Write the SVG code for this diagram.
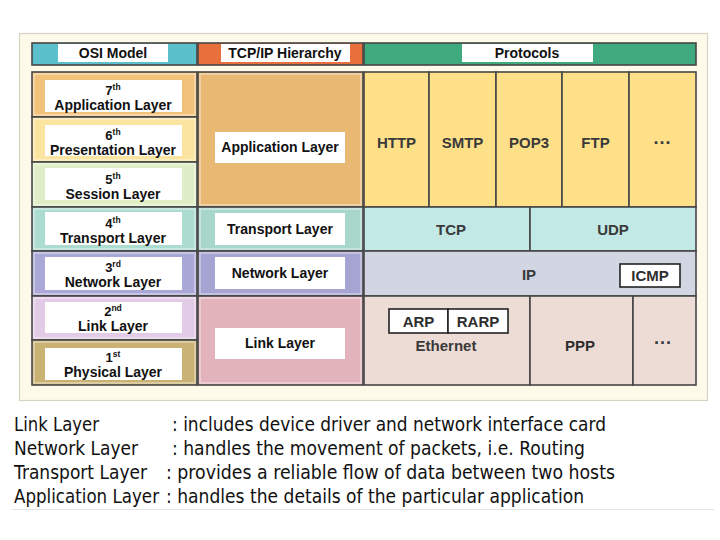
<svg xmlns="http://www.w3.org/2000/svg" width="720" height="540" viewBox="0 0 720 540">
<style>
.cell{stroke:#464646;stroke-width:1.6}
.hl{fill:none;stroke:#ffffff;stroke-opacity:0.45;stroke-width:1.5}
.wb{fill:#ffffff}
.lb{font-family:"Liberation Sans",Arial,sans-serif;font-weight:bold;font-size:14px;fill:#111;text-anchor:middle}
.ord{font-family:"Liberation Sans",Arial,sans-serif;font-weight:bold;font-size:13px;fill:#111;text-anchor:middle}
.sup{font-size:8.5px}
.pr{font-family:"Liberation Sans",Arial,sans-serif;font-weight:bold;font-size:15px;fill:#3a3a3a;text-anchor:middle}
.pn{font-family:"Liberation Sans",Arial,sans-serif;font-weight:bold;font-size:15px;fill:#2e2e2e;text-anchor:middle}
.dots{font-family:"Liberation Sans",Arial,sans-serif;font-weight:bold;font-size:18px;fill:#3a3a3a;text-anchor:middle}
.bx{fill:#ffffff;stroke:#222;stroke-width:1.6}
.note{font-family:"DejaVu Sans",Verdana,sans-serif;font-size:19px;fill:#111}
</style>
<rect x="0" y="0" width="720" height="540" fill="#ffffff"/>
<rect x="19.5" y="33.5" width="688" height="367" fill="#fdfaea" stroke="#d6d3c2" stroke-width="1.2"/>

<g id="headers">
  <g id="h-osi">
    <rect class="cell" x="32" y="43" width="165" height="22" fill="#5cbfcc"/>
    <rect class="wb" x="58" y="44" width="110" height="18"/>
    <text class="lb" x="113" y="58">OSI Model</text>
  </g>
  <g id="h-tcpip">
    <rect class="cell" x="198" y="43" width="165" height="22" fill="#e8703d"/>
    <rect class="wb" x="221" y="44" width="129" height="18"/>
    <text class="lb" x="285" y="58">TCP/IP Hierarchy</text>
  </g>
  <g id="h-proto">
    <rect class="cell" x="364" y="43" width="332" height="22" fill="#3eaa7e"/>
    <rect class="wb" x="462" y="44" width="131" height="18"/>
    <text class="lb" x="527" y="58">Protocols</text>
  </g>
</g>

<g id="osi">
  <g id="osi7">
    <rect class="cell" x="32" y="72" width="165" height="45" fill="#f2c27a"/>
    <rect class="hl" x="34" y="74" width="161" height="41"/>
    <rect class="wb" x="45" y="80" width="137" height="32"/>
    <text class="ord" x="113" y="95">7<tspan class="sup" dy="-5">th</tspan></text>
    <text class="lb" x="113" y="110">Application Layer</text>
  </g>
  <g id="osi6">
    <rect class="cell" x="32" y="117" width="165" height="45" fill="#fbe3a0"/>
    <rect class="hl" x="34" y="119" width="161" height="41"/>
    <rect class="wb" x="45" y="125" width="137" height="31"/>
    <text class="ord" x="113" y="140">6<tspan class="sup" dy="-5">th</tspan></text>
    <text class="lb" x="113" y="155">Presentation Layer</text>
  </g>
  <g id="osi5">
    <rect class="cell" x="32" y="162" width="165" height="45" fill="#dfeec6"/>
    <rect class="hl" x="34" y="164" width="161" height="41"/>
    <rect class="wb" x="45" y="168" width="137" height="32"/>
    <text class="ord" x="113" y="184">5<tspan class="sup" dy="-5">th</tspan></text>
    <text class="lb" x="113" y="199">Session Layer</text>
  </g>
  <g id="osi4">
    <rect class="cell" x="32" y="207" width="165" height="44" fill="#acdccf"/>
    <rect class="hl" x="34" y="209" width="161" height="40"/>
    <rect class="wb" x="45" y="212" width="137" height="33"/>
    <text class="ord" x="113" y="228">4<tspan class="sup" dy="-5">th</tspan></text>
    <text class="lb" x="113" y="243">Transport Layer</text>
  </g>
  <g id="osi3">
    <rect class="cell" x="32" y="251" width="165" height="45" fill="#aaa8d6"/>
    <rect class="hl" x="34" y="253" width="161" height="41"/>
    <rect class="wb" x="45" y="257" width="137" height="33"/>
    <text class="ord" x="113" y="272">3<tspan class="sup" dy="-5">rd</tspan></text>
    <text class="lb" x="113" y="287">Network Layer</text>
  </g>
  <g id="osi2">
    <rect class="cell" x="32" y="296" width="165" height="44" fill="#e2cbe6"/>
    <rect class="hl" x="34" y="298" width="161" height="40"/>
    <rect class="wb" x="45" y="302" width="137" height="31"/>
    <text class="ord" x="113" y="316">2<tspan class="sup" dy="-5">nd</tspan></text>
    <text class="lb" x="113" y="331">Link Layer</text>
  </g>
  <g id="osi1">
    <rect class="cell" x="32" y="340" width="165" height="45" fill="#c9b273"/>
    <rect class="hl" x="34" y="342" width="161" height="41"/>
    <rect class="wb" x="45" y="348" width="137" height="32"/>
    <text class="ord" x="113" y="362">1<tspan class="sup" dy="-5">st</tspan></text>
    <text class="lb" x="113" y="377">Physical Layer</text>
  </g>
</g>

<g id="tcpip">
  <g id="t-app">
    <rect class="cell" x="198" y="72" width="165" height="135" fill="#e9b873"/>
    <rect class="hl" x="200" y="74" width="161" height="131"/>
    <rect class="wb" x="215" y="132" width="130" height="31"/>
    <text class="lb" x="280" y="152">Application Layer</text>
  </g>
  <g id="t-transport">
    <rect class="cell" x="198" y="207" width="165" height="44" fill="#a9d6ca"/>
    <rect class="hl" x="200" y="209" width="161" height="40"/>
    <rect class="wb" x="215" y="213" width="130" height="32"/>
    <text class="lb" x="280" y="234">Transport Layer</text>
  </g>
  <g id="t-network">
    <rect class="cell" x="198" y="251" width="165" height="45" fill="#a6a4d2"/>
    <rect class="hl" x="200" y="253" width="161" height="41"/>
    <rect class="wb" x="215" y="257" width="130" height="32"/>
    <text class="lb" x="280" y="278">Network Layer</text>
  </g>
  <g id="t-link">
    <rect class="cell" x="198" y="296" width="165" height="89" fill="#e2b3bb"/>
    <rect class="hl" x="200" y="298" width="161" height="85"/>
    <rect class="wb" x="215" y="328" width="130" height="31"/>
    <text class="lb" x="280" y="348">Link Layer</text>
  </g>
</g>

<g id="protocols">
  <g id="p-http">
    <rect class="cell" x="364" y="72" width="65" height="135" fill="#fde088"/>
    <text class="pr" x="396.5" y="148">HTTP</text>
  </g>
  <g id="p-smtp">
    <rect class="cell" x="429" y="72" width="67" height="135" fill="#fde088"/>
    <text class="pr" x="462.5" y="148">SMTP</text>
  </g>
  <g id="p-pop3">
    <rect class="cell" x="496" y="72" width="66" height="135" fill="#fde088"/>
    <text class="pr" x="529" y="148">POP3</text>
  </g>
  <g id="p-ftp">
    <rect class="cell" x="562" y="72" width="67" height="135" fill="#fde088"/>
    <text class="pr" x="595.5" y="148">FTP</text>
  </g>
  <g id="p-more1">
    <rect class="cell" x="629" y="72" width="67" height="135" fill="#fde088"/>
    <text class="dots" x="662.5" y="149">···</text>
  </g>
  <g id="p-tcp">
    <rect class="cell" x="364" y="207" width="166" height="44" fill="#c2e9e6"/>
    <text class="pr" x="451" y="235">TCP</text>
  </g>
  <g id="p-udp">
    <rect class="cell" x="530" y="207" width="166" height="44" fill="#c2e9e6"/>
    <text class="pr" x="613" y="235">UDP</text>
  </g>
  <g id="p-ip">
    <rect class="cell" x="364" y="251" width="332" height="45" fill="#d2d6e2"/>
    <text class="pr" x="529" y="280">IP</text>
  </g>
  <g id="p-icmp">
    <rect class="bx" x="620" y="264" width="60" height="23"/>
    <text class="pn" x="650" y="281">ICMP</text>
  </g>
  <g id="p-ethernet">
    <rect class="cell" x="364" y="296" width="166" height="89" fill="#eddcd5"/>
    <text class="pr" x="446" y="351">Ethernet</text>
  </g>
  <g id="p-arp">
    <rect class="bx" x="389" y="309" width="59" height="24"/>
    <text class="pn" x="418.5" y="327">ARP</text>
  </g>
  <g id="p-rarp">
    <rect class="bx" x="448" y="309" width="60" height="24"/>
    <text class="pn" x="478" y="327">RARP</text>
  </g>
  <g id="p-ppp">
    <rect class="cell" x="530" y="296" width="103" height="89" fill="#eddcd5"/>
    <text class="pn" x="580" y="351">PPP</text>
  </g>
  <g id="p-more2">
    <rect class="cell" x="633" y="296" width="63" height="89" fill="#eddcd5"/>
    <text class="dots" x="663" y="349">···</text>
  </g>
</g>

<g id="notes">
  <text class="note" x="14" y="431" textLength="85" lengthAdjust="spacingAndGlyphs">Link Layer</text>
  <text class="note" x="172" y="431" textLength="434" lengthAdjust="spacingAndGlyphs">: includes device driver and network interface card</text>
  <text class="note" x="14" y="455" textLength="124" lengthAdjust="spacingAndGlyphs">Network Layer</text>
  <text class="note" x="172" y="455" textLength="413" lengthAdjust="spacingAndGlyphs">: handles the movement of packets, i.e. Routing</text>
  <text class="note" x="14" y="479" textLength="133" lengthAdjust="spacingAndGlyphs">Transport Layer</text>
  <text class="note" x="166" y="479" textLength="449" lengthAdjust="spacingAndGlyphs">: provides a reliable flow of data between two hosts</text>
  <text class="note" x="14" y="503" textLength="145" lengthAdjust="spacingAndGlyphs">Application Layer</text>
  <text class="note" x="166" y="503" textLength="418" lengthAdjust="spacingAndGlyphs">: handles the details of the particular application</text>
  <line x1="12" y1="509.5" x2="714" y2="509.5" stroke="#e4e4e4" stroke-width="1"/>
</g>
</svg>
